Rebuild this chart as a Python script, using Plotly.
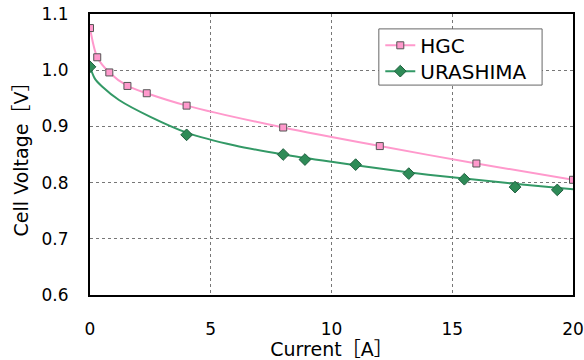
import plotly.graph_objects as go

# HGC measured points
hgc_current = [0.0, 0.3, 0.8, 1.55, 2.35, 4.0, 8.0, 12.0, 16.0, 20.0]
hgc_voltage = [1.075, 1.023, 0.996, 0.972, 0.959, 0.937, 0.898, 0.865, 0.834, 0.805]

# URASHIMA measured points
ura_current = [0.0, 4.0, 8.0, 8.9, 11.0, 13.2, 15.5, 17.6, 19.35]
ura_voltage = [1.006, 0.885, 0.850, 0.841, 0.832, 0.816, 0.806, 0.792, 0.787]

# URASHIMA smooth curve
ura_curve_current = [0.0, 0.2, 0.5, 1.2, 2.5, 4.0, 6.0, 8.0, 10.0, 12.0, 14.0, 16.0, 18.0, 20.0]
ura_curve_voltage = [1.006, 0.985, 0.971, 0.947, 0.917, 0.889, 0.866, 0.850, 0.837, 0.825, 0.814, 0.805, 0.796, 0.788]

pink = "#ff99cc"
green = "#339966"
font = "DejaVu Sans, Noto Sans CJK JP"

hgc_marker = dict(symbol="square", size=7, color=pink, line=dict(color="#555555", width=1))
ura_marker = dict(symbol="diamond", size=9, color="#2e8b57", line=dict(color="#1f5f3f", width=1))

fig = go.Figure()
fig.add_trace(go.Scatter(
    x=hgc_current, y=hgc_voltage, mode="lines+markers", name="HGC",
    line=dict(color=pink, width=2, shape="spline", smoothing=0.8),
    marker=hgc_marker, legend="legend",
))
fig.add_trace(go.Scatter(
    x=ura_curve_current, y=ura_curve_voltage, mode="lines", showlegend=False,
    line=dict(color=green, width=2, shape="spline", smoothing=0.8), hoverinfo="skip",
))
fig.add_trace(go.Scatter(
    x=ura_current, y=ura_voltage, mode="markers", showlegend=False,
    marker=ura_marker,
))
# legend entry for URASHIMA (line + diamond)
fig.add_trace(go.Scatter(
    x=[None], y=[None], mode="lines+markers", name="URASHIMA",
    line=dict(color=green, width=2), marker=ura_marker, legend="legend2",
))

leg_common = dict(
    xanchor="left", yanchor="top", bgcolor="rgba(0,0,0,0)", borderwidth=0,
    font=dict(size=20, family=font), itemwidth=30,
)
fig.update_layout(
    width=584, height=360,
    margin=dict(l=90, r=11, t=14, b=65, autoexpand=False),
    paper_bgcolor="white", plot_bgcolor="white",
    font=dict(family=font, size=17, color="black"),
    showlegend=True,
    legend=dict(x=0.601, y=0.958, **leg_common),
    legend2=dict(x=0.601, y=0.866, **leg_common),
    shapes=[dict(
        type="rect", xref="paper", yref="paper",
        x0=0.598, x1=0.936, y0=0.747, y1=0.947,
        fillcolor="white", line=dict(color="#666666", width=1), layer="above",
    )],
)
fig.update_xaxes(
    range=[0, 20], dtick=5, tick0=0, automargin=False,
    showline=True, linecolor="black", linewidth=2, mirror=True,
    showgrid=True, gridcolor="#777777", griddash="dot", gridwidth=1,
    zeroline=False, ticks="", ticklabelstandoff=18,
    title=dict(text="Current［A］", standoff=0, font=dict(size=19)),
)
fig.update_yaxes(
    range=[0.6, 1.1], dtick=0.1, tick0=0.6, tickformat=".1f", automargin=False,
    showline=True, linecolor="black", linewidth=2, mirror=True,
    showgrid=True, gridcolor="#777777", griddash="dot", gridwidth=1,
    zeroline=False, ticks="", ticklabelstandoff=16,
    title=dict(text="Cell Voltage［V］", standoff=8, font=dict(size=19)),
)
fig.write_html("out.html")
